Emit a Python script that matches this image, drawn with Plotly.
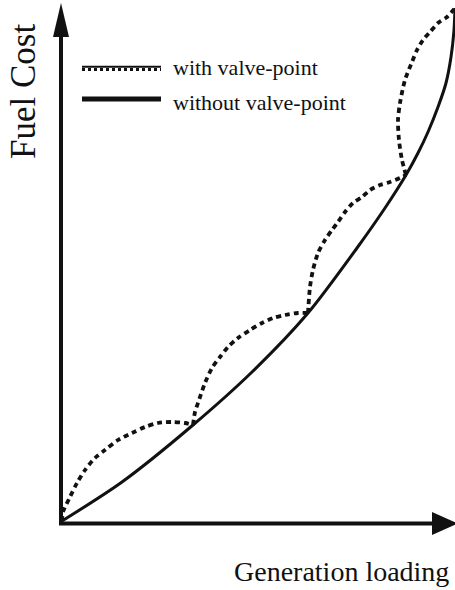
import plotly.graph_objects as go

# Units: arbitrary (load, cost)
smooth_load = [0, 60, 131, 190, 246, 295, 323, 344, 356, 366, 376, 384, 389, 392, 393]
smooth_cost = [0, 39, 96, 149, 208, 273, 313, 346, 368, 389, 414, 438, 464, 491, 513]

# valve-point curve, humps separated by None
valve_load = [0, 1, 8, 15, 23, 33, 43, 56, 70, 83, 96, 110, 123, 131, None,
              131, 133, 136, 143, 150, 158, 166, 176, 188, 200, 211, 223, 236, 246, None,
              246, 248, 251, 256, 263, 270, 276, 283, 291, 300, 308, 318, 328, 338, 344, None,
              344, 340, 337, 336, 338, 343, 350, 355, 361, 368, 376, 385, 393]
valve_cost = [0, 9, 24, 38, 51, 63, 71, 81, 88, 94, 98, 99, 98, 96, None,
              96, 109, 118, 138, 153, 164, 174, 183, 191, 198, 203, 206, 208, 208, None,
              208, 234, 251, 268, 281, 291, 299, 309, 318, 324, 331, 336, 339, 343, 346, None,
              346, 361, 381, 401, 418, 441, 459, 471, 481, 489, 498, 504, 513]

legend_labels = ["with valve-point", "without valve-point"]
x_title = "Generation loading"
y_title = "Fuel Cost"

INK = "#111111"
FONT = "Liberation Serif"

fig = go.Figure()
fig.add_trace(go.Scatter(x=valve_load, y=valve_cost, mode="lines",
                         line=dict(color=INK, width=3.8, dash="5px,4px", shape="spline", smoothing=0.8),
                         connectgaps=False, hoverinfo="skip"))
fig.add_trace(go.Scatter(x=smooth_load, y=smooth_cost, mode="lines",
                         line=dict(color=INK, width=3, shape="spline", smoothing=0.8),
                         hoverinfo="skip"))

shapes = [
    # y axis and arrowhead
    dict(type="line", x0=-1, y0=-4, x1=-1, y1=486, line=dict(color=INK, width=4)),
    dict(type="path", path="M -9,484 L 7,484 L -1,518 Z", fillcolor=INK, line=dict(width=0)),
    # x axis and arrowhead
    dict(type="line", x0=-3, y0=-2.5, x1=372, y1=-2.5, line=dict(color=INK, width=4)),
    dict(type="path", path="M 370,9 L 370,-14 L 396,-2.5 Z", fillcolor=INK, line=dict(width=0)),
    # legend samples
    dict(type="line", x0=20, y0=454.2, x1=99, y1=454.2, line=dict(color=INK, width=2)),
    dict(type="line", x0=20, y0=451.5, x1=99, y1=451.5, line=dict(color=INK, width=3, dash="3px,3px")),
    dict(type="line", x0=20, y0=422, x1=99, y1=422, line=dict(color=INK, width=5)),
]

annotations = [
    dict(x=109, y=454, text=legend_labels[0], showarrow=False, xanchor="left", yanchor="middle",
         font=dict(family=FONT, size=22, color=INK)),
    dict(x=109, y=419, text=legend_labels[1], showarrow=False, xanchor="left", yanchor="middle",
         font=dict(family=FONT, size=22, color=INK)),
    dict(x=279, y=-50, text=x_title, showarrow=False, xanchor="center", yanchor="middle",
         font=dict(family=FONT, size=28, color=INK)),
    dict(x=-39, y=429, text=y_title, showarrow=False, xanchor="center", yanchor="middle",
         textangle=-90, font=dict(family=FONT, size=35, color=INK)),
]

fig.update_layout(
    width=455, height=590, autosize=False,
    margin=dict(l=0, r=0, t=0, b=0, pad=0),
    paper_bgcolor="white", plot_bgcolor="white",
    showlegend=False,
    xaxis=dict(range=[-62, 393], visible=False, fixedrange=True),
    yaxis=dict(range=[-69, 521], visible=False, fixedrange=True),
    shapes=shapes, annotations=annotations,
)

fig.write_html("out.html")
